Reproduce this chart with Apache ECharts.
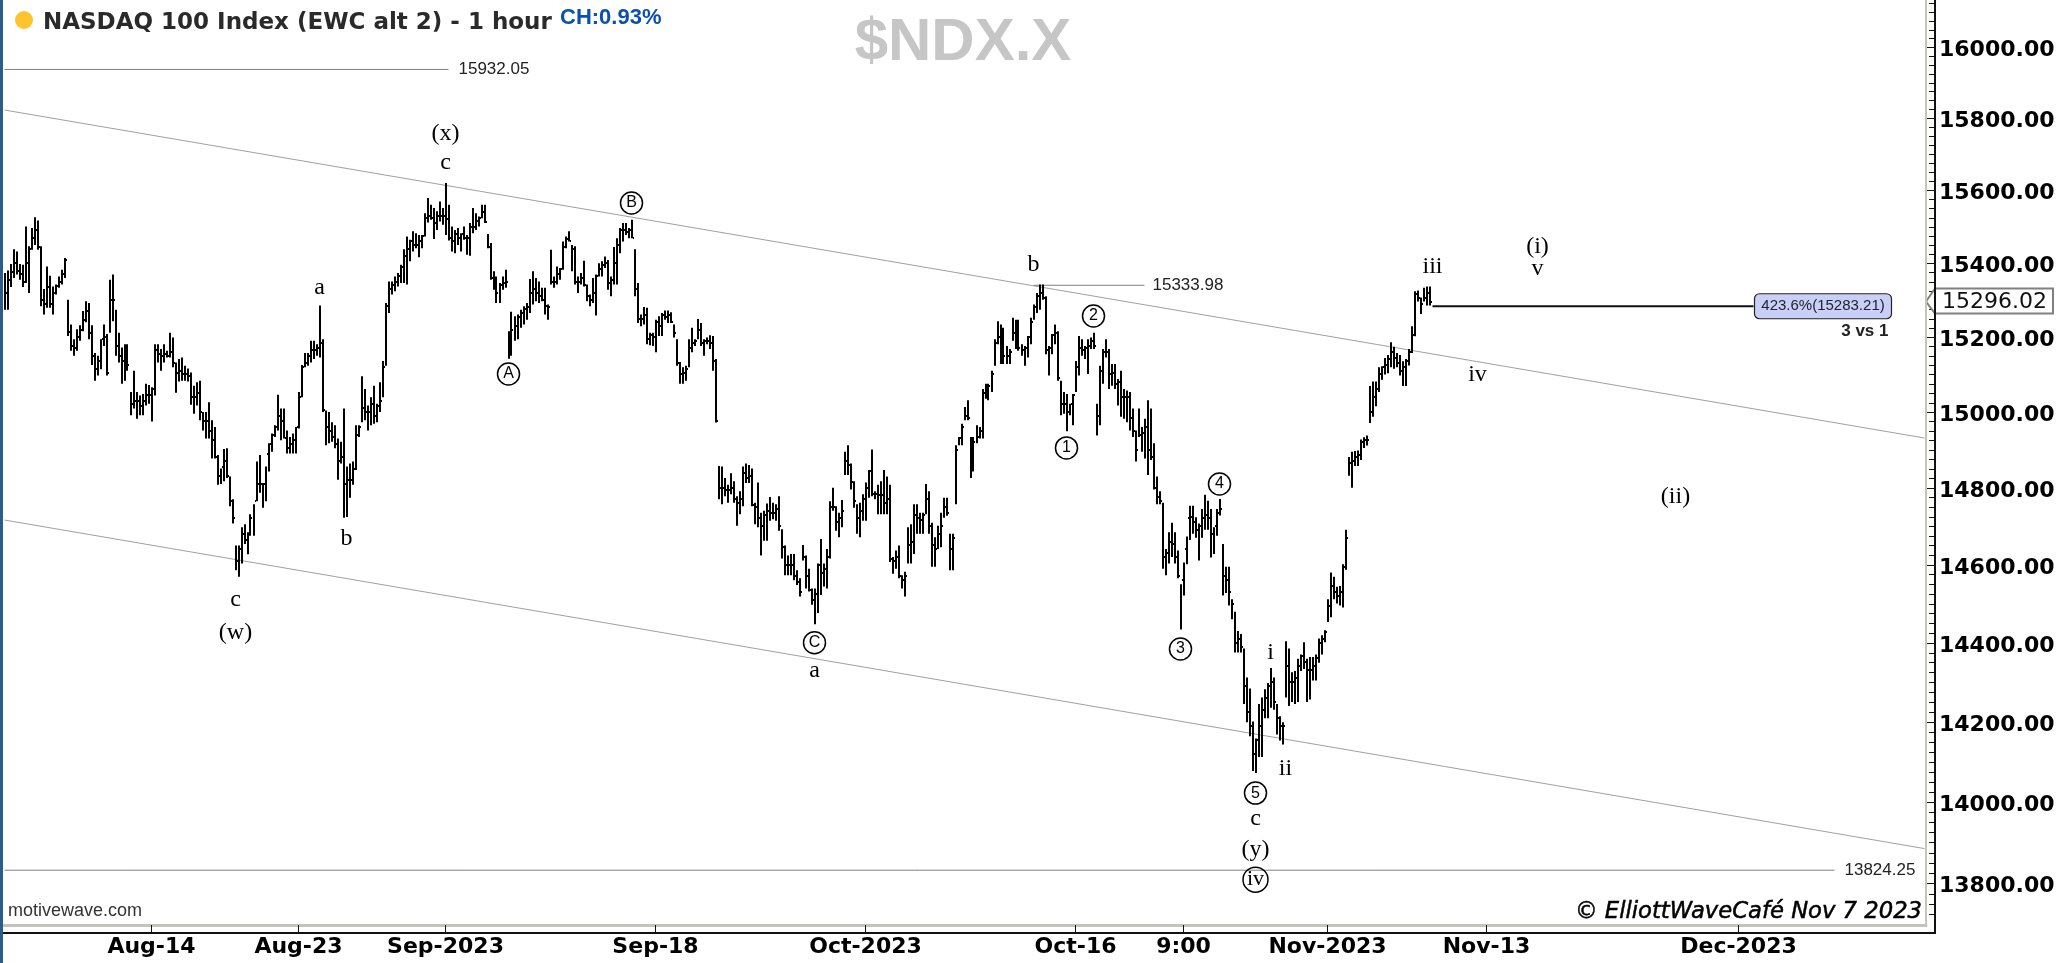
<!DOCTYPE html>
<html><head><meta charset="utf-8"><title>NDX</title>
<style>html,body{margin:0;padding:0;background:#fff}#c{width:2063px;height:963px}</style>
<script src="https://cdn.jsdelivr.net/npm/echarts@6/dist/echarts.min.js"></script></head>
<body><div id="c"></div>
<script>
const highs=[15373,15380,15398,15438,15432,15398,15396,15500,15446,15496,
15526,15517,15446,15330,15391,15366,15337,15342,15364,15382,
15414,15301,15234,15194,15221,15232,15270,15297,15292,15232,
15157,15150,15194,15234,15208,15355,15369,15274,15212,15172,
15181,15181,15053,15110,15053,15044,15048,15075,15072,15066,
15181,15181,15168,15181,15163,15212,15199,15132,15141,15145,
15123,15116,15105,15070,15079,15083,15000,15000,15026,14978,
14960,14886,14851,14902,14904,14830,14770,14650,14650,14697,
14705,14684,14731,14757,14869,14886,14813,14856,14917,14943,
14965,15046,15009,15009,14951,14934,14943,14960,15053,15125,
15157,15157,15190,15190,15181,15285,15194,15004,15000,14973,
14965,14930,14921,15009,14856,14864,14869,14965,14965,15095,
15061,15017,15039,15070,15022,15079,15136,15292,15350,15350,
15364,15373,15396,15438,15473,15464,15487,15482,15477,15477,
15537,15579,15560,15551,15542,15569,15551,15620,15560,15500,
15491,15496,15482,15500,15477,15510,15551,15537,15528,15560,
15560,15480,15455,15378,15364,15346,15364,15382,15216,15268,
15256,15261,15274,15283,15292,15357,15378,15360,15350,15333,
15333,15288,15437,15364,15391,15387,15459,15473,15487,15450,
15446,15364,15373,15407,15342,15315,15360,15369,15400,15405,
15418,15409,15364,15444,15468,15496,15510,15510,15496,15519,
15438,15346,15261,15281,15279,15212,15212,15247,15256,15265,
15272,15272,15267,15234,15194,15133,15119,15123,15194,15225,
15194,15249,15238,15194,15199,15205,15203,15141,14857,14856,
14826,14808,14838,14817,14778,14791,14856,14864,14860,14851,
14761,14814,14735,14740,14759,14776,14761,14757,14778,14692,
14650,14624,14628,14628,14586,14565,14651,14624,14590,14539,
14539,14603,14667,14603,14641,14765,14800,14752,14735,14768,
14895,14912,14864,14817,14757,14761,14783,14814,14847,14901,
14791,14808,14817,14847,14830,14808,14620,14637,14650,14573,
14582,14697,14705,14757,14757,14735,14735,14810,14791,14709,
14671,14701,14735,14774,14774,14680,14680,14912,14934,14969,
15013,15031,14934,14934,14965,14960,15061,15075,15075,15110,
15194,15243,15234,15225,15176,15168,15252,15247,15247,15181,
15176,15203,15252,15288,15319,15342,15342,15310,15176,15208,
15234,15216,15083,15053,15048,15022,15048,15136,15203,15194,
15176,15194,15199,15212,15022,15123,15168,15194,15168,15128,
15128,15088,15110,15061,15057,15053,15009,14951,15009,14960,
14982,15031,15009,14917,14830,14791,14761,14641,14684,14709,
14684,14637,14550,14606,14673,14753,14753,14723,14707,14745,
14782,14766,14745,14697,14745,14771,14654,14595,14595,14511,
14479,14430,14422,14385,14312,14284,14201,14158,14245,14261,
14282,14298,14336,14312,14245,14214,14199,14404,14385,14325,
14328,14359,14370,14401,14359,14364,14364,14370,14411,14419,
14432,14511,14580,14569,14543,14545,14601,14691,14881,14895,
14897,14898,14927,14933,14938,15069,15081,15081,15119,15122,
15144,15152,15186,15174,15157,15152,15135,15141,15168,15229,
15324,15326,15307,15333,15337,15337];
const lows=[15274,15274,15335,15360,15369,15355,15335,15346,15319,15437,
15450,15437,15283,15261,15279,15279,15261,15315,15333,15342,
15360,15203,15163,15150,15163,15190,15216,15240,15194,15125,
15083,15097,15114,15176,15097,15212,15243,15150,15132,15075,
15083,15110,14991,15009,14982,14991,14991,15017,15022,14975,
15044,15132,15110,15132,15145,15145,15119,15051,15081,15083,
15083,15081,15019,14995,15017,14978,14951,14930,14930,14877,
14877,14808,14810,14817,14826,14752,14707,14586,14569,14603,
14654,14627,14675,14675,14765,14787,14748,14765,14843,14895,
14934,14951,14925,14930,14890,14890,14890,14890,14956,15039,
15119,15123,15132,15141,15150,15145,15000,14912,14917,14921,
14904,14821,14864,14722,14724,14774,14808,14847,14934,14973,
14978,14951,14965,14969,14973,15000,15039,15123,15265,15315,
15324,15337,15346,15346,15342,15405,15432,15441,15416,15441,
15473,15511,15519,15466,15491,15514,15505,15477,15462,15432,
15427,15450,15432,15464,15423,15420,15482,15491,15500,15523,
15510,15441,15355,15328,15292,15292,15328,15333,15142,15150,
15190,15194,15225,15234,15247,15265,15288,15297,15292,15297,
15261,15247,15342,15333,15342,15355,15382,15441,15459,15378,
15342,15319,15342,15337,15297,15283,15292,15258,15364,15364,
15387,15328,15310,15342,15342,15427,15459,15477,15468,15468,
15310,15238,15229,15234,15181,15178,15176,15159,15203,15203,
15247,15238,15238,15199,15123,15075,15075,15083,15119,15159,
15176,15194,15176,15150,15181,15168,15110,14972,14770,14757,
14778,14761,14783,14761,14701,14731,14752,14813,14813,14752,
14705,14697,14624,14662,14662,14714,14718,14714,14688,14616,
14573,14573,14573,14560,14548,14518,14611,14539,14531,14497,
14447,14476,14522,14544,14539,14616,14740,14688,14671,14697,
14834,14834,14796,14748,14680,14671,14714,14714,14774,14778,
14770,14731,14731,14731,14731,14607,14577,14590,14565,14539,
14518,14603,14603,14628,14680,14680,14680,14731,14680,14595,
14595,14641,14645,14722,14727,14586,14586,14757,14912,14912,
14978,14978,14826,14843,14917,14930,14930,15035,15031,15053,
15123,15181,15128,15128,15128,15128,15190,15168,15163,15150,
15123,15145,15181,15247,15265,15274,15301,15154,15097,15154,
15181,15083,14991,14995,14949,14991,14965,15053,15097,15150,
15141,15101,15168,15168,14938,14965,15075,15145,15061,15070,
15061,15017,14987,14982,14973,14951,14934,14869,14934,14895,
14877,14834,14873,14796,14757,14757,14590,14573,14603,14620,
14603,14565,14434,14521,14601,14664,14680,14670,14611,14670,
14691,14691,14619,14628,14675,14728,14521,14527,14495,14460,
14375,14375,14375,14245,14199,14164,14077,14072,14112,14112,
14209,14209,14235,14230,14168,14153,14143,14261,14240,14250,
14245,14250,14328,14333,14250,14256,14304,14304,14349,14370,
14401,14453,14465,14511,14500,14495,14490,14587,14832,14800,
14857,14857,14873,14905,14911,14971,14987,15015,15053,15086,
15100,15103,15119,15115,15119,15097,15069,15069,15124,15157,
15202,15296,15262,15296,15285,15285];
const closes=[15320,15355,15375,15400,15380,15370,15350,15400,15440,15470,
15490,15445,15300,15290,15335,15290,15320,15338,15350,15370,
15409,15215,15175,15170,15200,15220,15245,15270,15210,15150,
15115,15135,15195,15200,15105,15300,15300,15175,15150,15135,
15140,15125,15020,15030,15030,15015,15030,15045,15045,15060,
15165,15155,15150,15155,15150,15160,15130,15105,15110,15100,
15100,15095,15040,15040,15050,15000,14975,14975,14950,14925,
14880,14830,14855,14870,14832,14765,14722,14610,14640,14680,
14665,14700,14720,14765,14810,14810,14810,14890,14915,14940,
14960,14990,14975,14930,14905,14915,14925,14960,15040,15120,
15130,15150,15165,15165,15170,15185,15004,14960,14950,14935,
14915,14870,14880,14810,14820,14820,14850,14940,14960,15010,
15000,15000,15020,14990,15015,15030,15120,15285,15330,15340,
15350,15365,15390,15420,15440,15460,15450,15450,15460,15475,
15525,15530,15525,15510,15530,15530,15530,15520,15470,15460,
15480,15470,15480,15470,15470,15500,15500,15515,15525,15540,
15512,15445,15360,15340,15320,15340,15345,15350,15210,15220,
15230,15255,15265,15275,15280,15320,15330,15320,15310,15300,
15285,15280,15350,15350,15370,15383,15445,15465,15460,15440,
15350,15350,15360,15340,15310,15300,15320,15365,15385,15395,
15400,15345,15355,15400,15450,15490,15490,15485,15490,15470,
15330,15250,15250,15260,15195,15205,15200,15240,15230,15260,
15255,15260,15240,15210,15130,15100,15105,15115,15170,15185,
15190,15220,15185,15190,15190,15185,15135,14975,14800,14800,
14795,14795,14800,14770,14760,14770,14840,14825,14830,14755,
14750,14720,14700,14730,14740,14735,14735,14745,14700,14645,
14600,14600,14600,14570,14555,14530,14620,14570,14535,14510,
14525,14600,14580,14590,14620,14750,14750,14710,14720,14740,
14870,14860,14815,14765,14720,14740,14770,14800,14845,14785,
14785,14780,14780,14760,14770,14615,14610,14620,14570,14560,
14570,14650,14660,14730,14720,14715,14730,14770,14700,14650,
14640,14680,14700,14750,14735,14640,14670,14900,14930,14960,
14990,14985,14880,14920,14935,14950,15050,15060,15070,15100,
15185,15200,15180,15150,15150,15160,15210,15210,15170,15165,
15170,15200,15240,15280,15310,15320,15305,15165,15170,15205,
15210,15090,15020,15020,15000,15020,15045,15120,15170,15165,
15170,15175,15190,15175,14990,15110,15160,15160,15100,15105,
15075,15080,15040,15040,15040,14985,14950,14900,14940,14945,
14960,14900,14880,14800,14775,14765,14620,14630,14660,14655,
14620,14570,14560,14640,14720,14725,14710,14690,14700,14720,
14730,14720,14680,14700,14735,14745,14570,14560,14530,14500,
14400,14410,14390,14290,14225,14190,14120,14155,14190,14230,
14260,14290,14300,14250,14210,14190,14190,14340,14300,14300,
14310,14340,14365,14350,14330,14330,14340,14360,14400,14410,
14428,14495,14545,14530,14520,14530,14595,14670,14865,14870,
14880,14885,14920,14925,14925,15000,15040,15060,15100,15120,
15125,15140,15160,15145,15130,15110,15120,15135,15160,15205,
15315,15305,15290,15305,15320,15296];

const tickLabels=['Aug-14','Aug-23','Sep-2023','Sep-18','Oct-2023','Oct-16','9:00','Nov-2023','Nov-13','Dec-2023'];
const tickBars=[49,98,147,217,287,357,393,441,494,578];
const priceLabels=[13800,14000,14200,14400,14600,14800,15000,15200,15400,15600,15800,16000];

const waveTexts=['(x)','c','a','(w)','c','b','a','b','i','ii','c','(y)','iii','v','(i)','iv','(ii)'];
const waveBars=[147,147,105,77,77,114,270,343,422,427,417,417,476,511,511,491,557];
const wavePrices=[15757,15676,15333,14425,14509,14667,14328,15395,14375,14082,13958,13882,15390,15385,15445,15100,14776];

const circleTexts=['A','B','C','1','2','3','4','5','iv'];
const circleBars=[168,209,270,354,363,392,405,417,417];
const circlePrices=[15101,15565,14400,14905,15257,14384,14810,14022,13809];

const upperChannel=[[0,15823],[640,14931]];
const lowerChannel=[[0,14716],[640,13885]];
const levelTexts=['15932.05','15333.98','13824.25'];
const levelPrices=[15937,15340,13832];
const levelStart=[0,343,0];
const levelEnd=[148,380,610];

const lastPrice=15296.02;
const fibPrice=15283.21;
const fibText='423.6%(15283.21)';
const fibFrom=476, fibTo=583, fibBoxBar=606;
const fibNote='3 vs 1', fibNoteBar=628, fibNotePrice=15215;

const barCount=641;
const categories=new Array(barCount).fill('');
tickBars.forEach((b,i)=>{categories[b]=tickLabels[i];});
const isTick=i=>tickBars.indexOf(i)>=0;

const minorTicks=[];for(let p=13725;p<=16125;p+=25){if(p%200!==0)minorTicks.push([0,p]);}

const SANS='"Liberation Sans",Arial,sans-serif', SERIF='"Liberation Serif","Times New Roman",serif', VERD='"DejaVu Sans",Verdana,sans-serif';

const chart=echarts.init(document.getElementById('c'),null,{renderer:'canvas'});
const barData=highs.map((h,i)=>[i,h,lows[i],closes[i]]);

const series=[
 {type:'line',name:'upper',data:upperChannel,showSymbol:false,silent:true,lineStyle:{color:'#a0a0a0',width:1},z:1},
 {type:'line',name:'lower',data:lowerChannel,showSymbol:false,silent:true,lineStyle:{color:'#a0a0a0',width:1},z:1},
];
levelTexts.forEach((t,k)=>{
 series.push({type:'line',name:t,data:[[levelStart[k],levelPrices[k]],[levelEnd[k],levelPrices[k]]],showSymbol:false,silent:true,
  lineStyle:{color:'#808080',width:1},z:1,
  endLabel:{show:true,formatter:t,distance:k===1?8:10,color:'#222',fontFamily:SANS,fontSize:17}});
});
series.push({type:'custom',name:'OHLC',data:barData,encode:{x:0,y:[1,2,3]},z:5,silent:true,clip:false,
 renderItem:function(p,api){
  const a=api.coord([api.value(0),api.value(1)]),b=api.coord([api.value(0),api.value(2)]),c=api.coord([api.value(0),api.value(3)]);
  const x=Math.round(a[0]-1);
  return {type:'group',children:[
   {type:'rect',shape:{x:x,y:a[1],width:2,height:b[1]-a[1]},style:{fill:'#000'}},
   {type:'rect',shape:{x:x+2,y:Math.round(c[1])-1,width:1,height:2},style:{fill:'#000'}}
  ]};
 }});
series.push({type:'line',name:'fib',data:[[fibFrom,fibPrice],[fibTo,fibPrice]],showSymbol:false,silent:true,lineStyle:{color:'#111',width:2},z:6});
series.push({type:'custom',name:'fibbox',data:[[fibBoxBar,fibPrice]],encode:{x:0,y:1},z:7,silent:true,
 renderItem:function(p,api){
  const c=api.coord([api.value(0),api.value(1)]);
  return {type:'group',children:[
   {type:'rect',shape:{x:c[0]-68,y:c[1]-12.5,width:137,height:25,r:5},style:{fill:'#c9d0f7',stroke:'#222',lineWidth:1.2}},
   {type:'text',style:{x:c[0]+0.5,y:c[1],text:fibText,align:'center',verticalAlign:'middle',fill:'#223',font:'15px '+SANS}}
  ]};
 }});
series.push({type:'custom',name:'fibnote',data:[[fibNoteBar,fibNotePrice]],encode:{x:0,y:1},z:7,silent:true,
 renderItem:function(p,api){
  const c=api.coord([api.value(0),api.value(1)]);
  return {type:'text',style:{x:c[0],y:c[1],text:fibNote,align:'right',verticalAlign:'middle',fill:'#222',font:'bold 17px '+SANS}};
 }});
series.push({type:'scatter',name:'waves',data:waveBars.map((b,i)=>[b,wavePrices[i]]),symbolSize:1,itemStyle:{color:'transparent',opacity:1},z:8,silent:true,
 label:{show:true,position:'inside',color:'#000',opacity:1,fontFamily:SERIF,fontSize:24,formatter:p=>waveTexts[p.dataIndex]}});
series.push({type:'scatter',name:'circles',data:circleBars.map((b,i)=>[b,circlePrices[i]]),symbolSize:22,z:8,silent:true,
 itemStyle:{color:'transparent',borderColor:'#000',borderWidth:1.5,opacity:1},
 label:{show:true,position:'inside',color:'#000',opacity:1,fontFamily:SANS,fontSize:16,formatter:p=>circleTexts[p.dataIndex]}});
series[series.length-1].data[8]={value:[circleBars[8],circlePrices[8]],symbolSize:25,label:{fontFamily:SERIF,fontSize:22}};

series.push({type:'custom',name:'majorTicks',data:priceLabels.map(p=>[0,p]),encode:{x:0,y:1},z:9,silent:true,clip:false,
 renderItem:function(p,api){
  const y=Math.round(api.coord([0,api.value(1)])[1]);
  const r=p.coordSys.x+p.coordSys.width;
  return {type:'group',children:[
   {type:'rect',shape:{x:r-1,y:y,width:10,height:1},style:{fill:'#111'}},
   {type:'text',style:{x:r+13,y:y+3,text:api.value(1).toFixed(2),align:'left',verticalAlign:'middle',fill:'#000',font:'bold 22px '+VERD}}
  ]};
 }});
series.push({type:'custom',name:'minorTicks',data:minorTicks,encode:{x:0,y:1},z:9,silent:true,clip:false,
 renderItem:function(p,api){
  const y=Math.round(api.coord([0,api.value(1)])[1]);
  const r=p.coordSys.x+p.coordSys.width;
  return {type:'rect',shape:{x:r+3,y:y,width:6,height:1},style:{fill:'#111'}};
 }});
series.push({type:'custom',name:'lastPrice',data:[[0,lastPrice]],encode:{x:0,y:1},z:10,silent:true,clip:false,
 renderItem:function(p,api){
  const y=api.coord([0,api.value(1)])[1];
  const r=p.coordSys.x+p.coordSys.width;
  return {type:'group',children:[
   {type:'polygon',shape:{points:[[r,y],[r+9,y-13],[r+127,y-13],[r+127,y+12],[r+9,y+12]]},style:{fill:'#fff',stroke:'#808080',lineWidth:2}},
   {type:'text',style:{x:r+16,y:y+1,text:api.value(1).toFixed(2),align:'left',verticalAlign:'middle',fill:'#111',font:'22px '+VERD}}
  ]};
 }});

chart.setOption({
 animation:false,backgroundColor:'#fff',
 grid:{left:3,top:0,width:1923,height:925,containLabel:false},
 xAxis:{type:'category',data:categories,boundaryGap:true,
  axisLine:{show:true,lineStyle:{color:'#c4c4bc',width:3}},
  axisTick:{show:true,alignWithLabel:true,length:7,interval:(i)=>isTick(i),lineStyle:{color:'#111',width:1}},
  axisLabel:{show:true,interval:(i)=>isTick(i),margin:11,color:'#000',fontFamily:VERD,fontWeight:'bold',fontSize:22,hideOverlap:false},
  splitLine:{show:false}},
 yAxis:{type:'log',logBase:10,min:13698.6,max:16134,position:'right',
  axisLine:{show:false},axisTick:{show:false},axisLabel:{show:false},splitLine:{show:false},minorTick:{show:false},minorSplitLine:{show:false}},
 series:series,
 graphic:[
  {type:'rect',shape:{x:0,y:0,width:3,height:963},style:{fill:'#2b5c8c'},z:20},
  {type:'rect',shape:{x:1925,y:0,width:2,height:927},style:{fill:'#c4c4bc'},z:20},
  {type:'rect',shape:{x:1934,y:0,width:2,height:934},style:{fill:'#111'},z:20},
  {type:'rect',shape:{x:3,y:932,width:1933,height:2},style:{fill:'#111'},z:20},
  {type:'circle',shape:{cx:24,cy:20,r:9},style:{fill:'#fdc42e'},z:20},
  {type:'text',style:{x:43,y:23,text:'NASDAQ 100 Index (EWC alt 2) - 1 hour',verticalAlign:'middle',fill:'#2a2a2a',font:'bold 23px '+VERD},z:20},
  {type:'text',style:{x:560,y:18,text:'CH:0.93%',verticalAlign:'middle',fill:'#0b4fb3',font:'bold 22px '+SANS},z:20},
  {type:'text',style:{x:963,y:43,text:'$NDX.X',align:'center',verticalAlign:'middle',fill:'#c6c6c6',font:'bold 60px '+SANS},z:0},
  {type:'text',style:{x:8,y:911,text:'motivewave.com',verticalAlign:'middle',fill:'#333',font:'18px '+SANS},z:20},
  {type:'text',style:{x:1922,y:912,text:'© ElliottWaveCafé Nov 7 2023',align:'right',verticalAlign:'middle',fill:'#000',stroke:'#000',lineWidth:0.5,font:'italic 22.7px '+VERD},z:20}
 ]
});
</script></body></html>
